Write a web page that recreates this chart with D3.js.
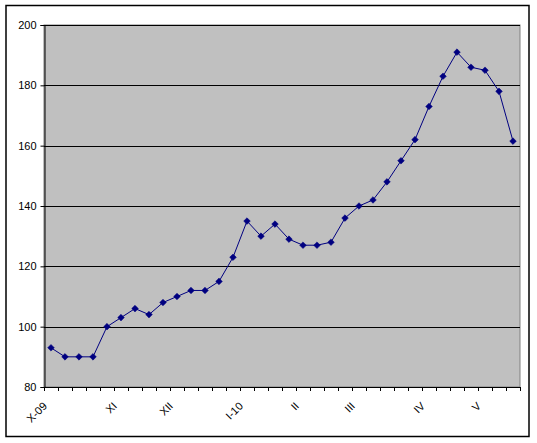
<!DOCTYPE html>
<html><head><meta charset="utf-8">
<script src="https://cdn.jsdelivr.net/npm/d3@7"></script>
<style>body{margin:0;background:#fff}svg{display:block}text{font-family:Arial,"Liberation Sans",sans-serif}</style>
</head><body>
<svg id="c" width="537" height="443"></svg>
<script>
const categories = ["X-09","","","","","XI","","","","XII","","","","","I-10","","","","II","","","","III","","","","","IV","","","","V","",""];
const values = [93,90,90,90,100,103,106,104,108,110,112,112,115,123,135,130,134,129,127,127,128,136,140,142,148,155,162,173,183,191,186,185,178,161.5];
const yTicks = [80,100,120,140,160,180,200];

const svg = d3.select("#c");
const L = 44, R = 520, T = 25, B = 387;

svg.append("rect").attr("x",6).attr("y",5.5).attr("width",523).attr("height",431)
  .attr("fill","#fff").attr("stroke","#000").attr("stroke-width",1.5);

const x = d3.scaleBand().domain(d3.range(categories.length)).range([L,R]).padding(0);
const y = d3.scaleLinear().domain([80,200]).range([B,T]);

svg.append("rect").attr("x",L).attr("y",T).attr("width",R-L).attr("height",B-T)
  .attr("fill","#c0c0c0").attr("stroke","#808080").attr("stroke-width",1);

svg.append("g").selectAll("line").data(yTicks.slice(1)).join("line")
  .attr("x1",L).attr("x2",R).attr("y1",d=>Math.round(y(d))+0.5).attr("y2",d=>Math.round(y(d))+0.5)
  .attr("stroke","#000").attr("stroke-width",1);

const yAxis = svg.append("g").attr("transform",`translate(${L+0.5},0)`)
  .call(d3.axisLeft(y).tickValues(yTicks).tickSize(4).tickPadding(4).tickFormat(d3.format("d")));
yAxis.select(".domain").attr("stroke","#000");
yAxis.selectAll("text").attr("font-size",11).attr("fill","#000");

// x axis ticks at category boundaries
const bounds = d3.range(categories.length+1).map(i=>L + i*x.step());
const xg = svg.append("g");
xg.append("line").attr("x1",L).attr("x2",R).attr("y1",B+0.5).attr("y2",B+0.5).attr("stroke","#000");
xg.selectAll("line.t").data(bounds).join("line").attr("class","t")
  .attr("x1",d=>Math.round(d)+0.5).attr("x2",d=>Math.round(d)+0.5).attr("y1",B).attr("y2",B+4).attr("stroke","#000");
xg.selectAll("text").data(categories.map((c,i)=>({c,i})).filter(d=>d.c)).join("text")
  .attr("transform",d=>`translate(${x(d.i)+x.bandwidth()/2-6},${B+17}) rotate(-45)`)
  .attr("text-anchor","end").attr("dy","0.35em").attr("font-size",11).attr("fill","#000").text(d=>d.c);

const line = d3.line().x((d,i)=>x(i)+x.bandwidth()/2).y(d=>y(d));
svg.append("path").datum(values).attr("d",line).attr("fill","none").attr("stroke","#000080").attr("stroke-width",1);

svg.append("g").selectAll("path").data(values).join("path")
  .attr("d",d3.symbol(d3.symbolSquare,22))
  .attr("transform",(d,i)=>`translate(${x(i)+x.bandwidth()/2},${y(d)}) rotate(45)`)
  .attr("fill","#000080").attr("stroke","#000080").attr("stroke-width",0.5);
</script>
</body></html>
